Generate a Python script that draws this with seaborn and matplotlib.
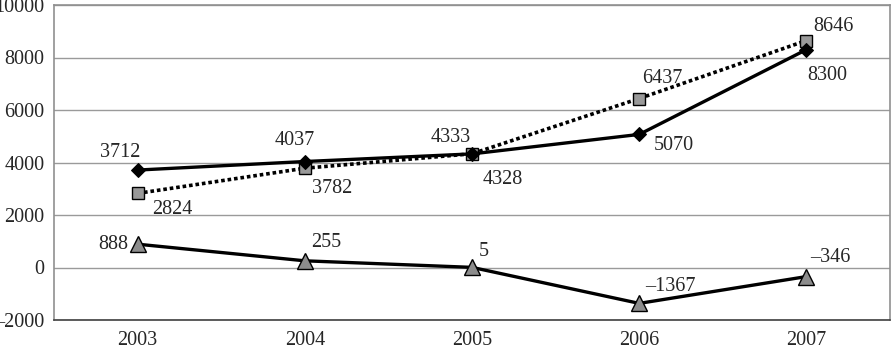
import numpy as np
import pandas as pd
import matplotlib
matplotlib.use("Agg")
import matplotlib.pyplot as plt
import seaborn as sns

years = ["2003", "2004", "2005", "2006", "2007"]
diamond_vals = [3712, 4037, 4328, 5070, 8300]
square_vals = [2824, 3782, 4333, 6437, 8646]
triangle_vals = [888, 255, 5, -1367, -346]

ytick_vals = [-2000, 0, 2000, 4000, 6000, 8000, 10000]
ytick_labels = ["\u20132000", "0", "2000", "4000", "6000", "8000", "10000"]

# label offsets in pixels (dx, dy) relative to each point
diamond_off = [(-17, 18), (-10, 21), (31, -26), (35, -11), (21, -26)]
square_off = [(35, -16), (27, -20), (-21, 16), (23, 20), (27, 14)]
triangle_off = [(-24, 0), (21, 18), (12, 16), (31, 17), (24, 19)]

sns.set_style("white")
plt.rcParams["font.family"] = ["Liberation Serif", "DejaVu Serif"]

fig = plt.figure(figsize=(8.91, 3.51), dpi=100)
ax = fig.add_axes([54 / 891, 31 / 351, 836 / 891, 315 / 351])

df = pd.DataFrame({"year": years, "d": diamond_vals, "s": square_vals, "t": triangle_vals})

sns.lineplot(data=df, x="year", y="s", ax=ax, color="black", linewidth=2.6,
             linestyle=(0, (1, 0.8)), marker="s", markersize=9,
             markerfacecolor="#999999", markeredgecolor="black", markeredgewidth=1,
             zorder=3)
sns.lineplot(data=df, x="year", y="d", ax=ax, color="black", linewidth=2.4,
             marker="D", markersize=7.5, markerfacecolor="black",
             markeredgecolor="black", zorder=4)
sns.lineplot(data=df, x="year", y="t", ax=ax, color="black", linewidth=2.4,
             marker="^", markersize=11, markerfacecolor="#8c8c8c",
             markeredgecolor="black", markeredgewidth=1, zorder=3)


def label(vals, offs):
    for i, (v, (dx, dy)) in enumerate(zip(vals, offs)):
        txt = str(v).replace("-", "\u2013")
        ax.annotate(txt, (i, v), xytext=(dx, dy), textcoords="offset pixels",
                    ha="center", va="center", fontsize=14.5, zorder=5)


label(diamond_vals, diamond_off)
label(square_vals, square_off)
label(triangle_vals, triangle_off)

ax.set_xlim(-0.5, 4.5)
ax.set_ylim(-2000, 10000)
ax.set_yticks(ytick_vals)
ax.set_yticklabels(ytick_labels, fontsize=14.5)
ax.set_xticks(range(len(years)))
ax.set_xticklabels(years, fontsize=14.5)
ax.set_xticks(np.arange(0.5, 4.5, 1), minor=True)
ax.tick_params(axis="x", which="major", length=0, pad=8)
ax.tick_params(axis="x", which="minor", length=5, width=1, color="#404040", direction="out")
ax.tick_params(axis="y", length=4, width=1, color="#808080", direction="out", pad=3)
ax.set_xlabel("")
ax.set_ylabel("")

ax.yaxis.grid(True, color="#9a9a9a", linewidth=1)
ax.set_axisbelow(True)
for side in ["top", "right", "left"]:
    ax.spines[side].set_color("#909090")
    ax.spines[side].set_linewidth(1.2)
ax.spines["bottom"].set_color("#404040")
ax.spines["bottom"].set_linewidth(1.2)

fig.savefig("out.png", dpi=100)
